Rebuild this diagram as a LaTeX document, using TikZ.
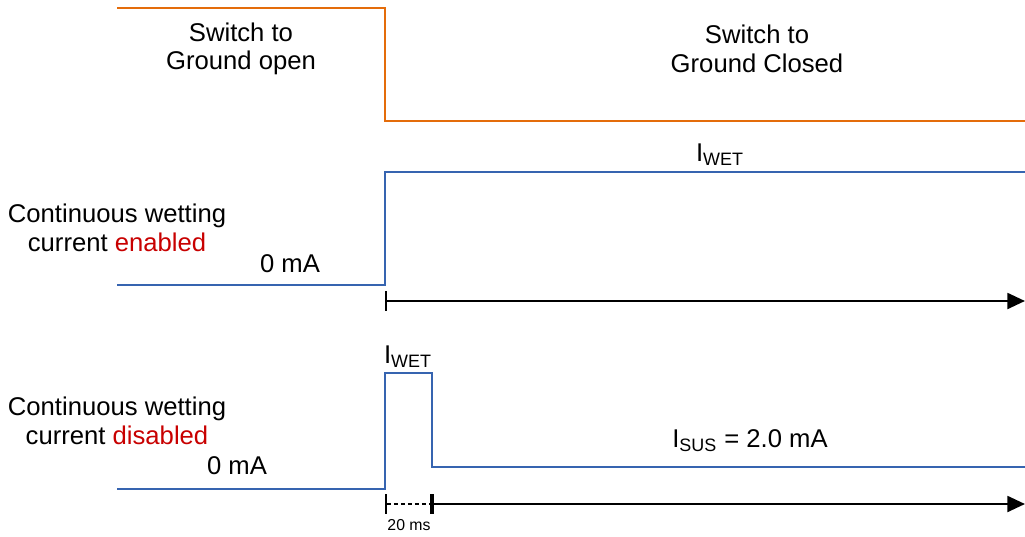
\documentclass[tikz,border=0pt]{standalone}
\usepackage{fontspec}
\setmainfont{Liberation Sans}
\usetikzlibrary{arrows.meta}
\definecolor{swcol}{RGB}{228,108,10}
\definecolor{curcol}{RGB}{54,100,176}
\definecolor{onoff}{RGB}{200,0,0}
\tikzset{
  lbl/.style={align=center,font=\fontsize{14.6}{16.3}\selectfont,inner sep=0pt},
  small/.style={font=\fontsize{9}{10}\selectfont,inner sep=0pt},
  swline/.style={swcol,line width=1.6pt},
  curline/.style={curcol,line width=1.7pt},
  timeax/.style={line width=1.4pt,{Bar[width=11pt]}-{Triangle[length=10pt,width=9pt]}},
  gapax/.style={line width=1.4pt,dash pattern=on 2.5pt off 1.5pt,{Bar[width=11pt]}-{Bar[width=11pt]}}
}
\begin{document}
\begin{tikzpicture}[x=0.02cm,y=-0.02cm]
        \useasboundingbox (0,0) rectangle (1025,537);
        % switch state
        \coordinate (s0) at (117,8);
        \coordinate (s1) at (385,8);
        \coordinate (s2) at (385,121);
        \coordinate (s3) at (1025,121);
        \draw[swline] (s0) -- (s1) -- (s2) -- (s3);
        \node[lbl] (open) at (241,49) {Switch to\\Ground open};
        \node[lbl] (closed) at (757,49) {Switch to\\Ground Closed};
        % wetting current enabled
        \coordinate (a0) at (117,285);
        \coordinate (a1) at (385,285);
        \coordinate (a2) at (385,172);
        \coordinate (a3) at (1025,172);
        \draw[curline] (a0) -- (a1) -- (a2) -- (a3);
        \node[lbl] (en) at (117,228) {Continuous wetting\\current \textcolor{onoff}{enabled}};
        \node[lbl] (zeroA) at (290,264) {0 mA};
        \node[lbl] (wetA) at (720,155) {I\textsubscript{WET}};
        \coordinate (ta0) at (385,301);
        \coordinate (ta1) at (1025,301);
        \path[timeax] (ta0) edge (ta1);
        % wetting current disabled
        \coordinate (b0) at (117,489);
        \coordinate (b1) at (385,489);
        \coordinate (b2) at (385,373);
        \coordinate (b3) at (432,373);
        \coordinate (b4) at (432,467);
        \coordinate (b5) at (1025,467);
        \draw[curline] (b0) -- (b1) -- (b2) -- (b3) -- (b4) -- (b5);
        \node[lbl] (dis) at (117,421) {Continuous wetting\\current \textcolor{onoff}{disabled}};
        \node[lbl] (zeroB) at (237,466) {0 mA};
        \node[lbl] (wetB) at (408,357) {I\textsubscript{WET}};
        \node[lbl] (sus) at (750,441) {I\textsubscript{SUS} = 2.0 mA};
        \coordinate (tb0) at (385,504);
        \coordinate (tb1) at (432,504);
        \coordinate (tb2) at (1025,504);
        \path[gapax] (tb0) edge (tb1);
        \path[timeax] (tb1) edge (tb2);
        \node[small] (dt) at (409,525) {20 ms};
      \end{tikzpicture}
\end{document}
